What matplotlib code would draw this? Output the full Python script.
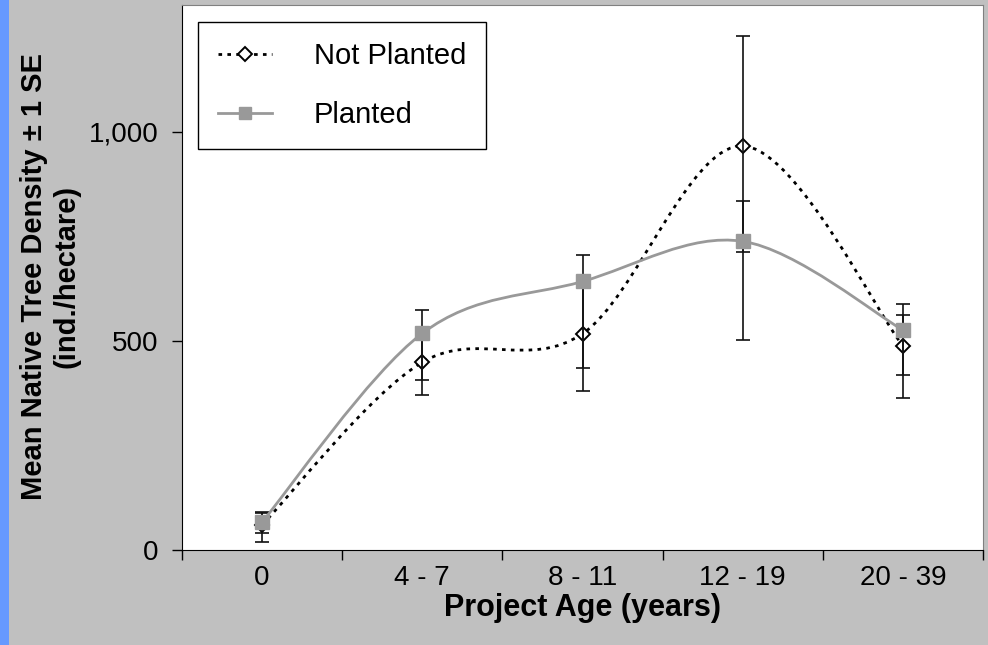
import numpy as np
import matplotlib
matplotlib.use('Agg')
import matplotlib.pyplot as plt
from matplotlib.path import Path
from matplotlib.patches import PathPatch, Rectangle
from matplotlib.lines import Line2D

plt.rcParams['font.family'] = ['Liberation Sans', 'DejaVu Sans']

categorias = ['0', '4 - 7', '8 - 11', '12 - 19', '20 - 39']

# Not Planted: media y extremos de las barras de error
np_media = [60, 449, 517, 966, 488]
np_bajo = [19, 370, 381, 712, 418]
np_alto = [91, 528, 653, 1230, 561]

# Planted
p_media = [67, 518, 642, 738, 526]
p_bajo = [40, 406, 434, 501, 363]
p_alto = [88, 573, 705, 834, 589]


def curva_suave(x, y):
    # curva tipo "smoothed line" de Excel (bezier cubica)
    n = len(x)
    verts = [(x[0], y[0])]
    codes = [Path.MOVETO]
    for i in range(n - 1):
        a = max(i - 1, 0)
        b = min(i + 2, n - 1)
        c1 = (x[i] + (x[i + 1] - x[a]) / 6.0, y[i] + (y[i + 1] - y[a]) / 6.0)
        c2 = (x[i + 1] - (x[b] - x[i]) / 6.0, y[i + 1] - (y[b] - y[i]) / 6.0)
        verts += [c1, c2, (x[i + 1], y[i + 1])]
        codes += [Path.CURVE4] * 3
    return Path(verts, codes)


xpos = np.arange(len(categorias))
gris = '#999999'
punteado = (0, (1.3, 1.9))

fig = plt.figure(figsize=(9.88, 6.45), dpi=100, facecolor='#C0C0C0')
fig.add_artist(Rectangle((0, 0), 9 / 988, 1, transform=fig.transFigure,
                         facecolor='#6699FF', edgecolor='none'))
ax = fig.add_axes([182 / 988, 1 - 550 / 645, 801 / 988, 545 / 645])
ax.set_facecolor('white')

# Not Planted
ax.add_patch(PathPatch(curva_suave(xpos, np_media), facecolor='none', edgecolor='black',
                       lw=2.0, linestyle=punteado, zorder=2))
ax.plot(xpos, np_media, linestyle='none', marker='D', ms=7.5, mfc='white',
        mec='black', mew=1.4, zorder=3)

# barras de error
ax.errorbar(xpos, np_media, yerr=[np.array(np_media) - np.array(np_bajo),
                                  np.array(np_alto) - np.array(np_media)],
            fmt='none', ecolor='#111111', elinewidth=1.2, capsize=5, capthick=1.2, zorder=4)
ax.errorbar(xpos, p_media, yerr=[np.array(p_media) - np.array(p_bajo),
                                 np.array(p_alto) - np.array(p_media)],
            fmt='none', ecolor='#111111', elinewidth=1.2, capsize=5, capthick=1.2, zorder=4)

# Planted
ax.add_patch(PathPatch(curva_suave(xpos, p_media), facecolor='none', edgecolor=gris,
                       lw=2.0, zorder=5))
ax.plot(xpos, p_media, linestyle='none', marker='s', ms=9.5, mfc=gris,
        mec=gris, zorder=6)

ax.set_xlim(-0.5, 4.5)
ax.set_ylim(0, 1303)
ax.set_yticks([0, 500, 1000])
ax.set_yticklabels(['0', '500', '1,000'])
ax.set_xticks(np.arange(-0.5, 5, 1.0))
ax.set_xticklabels([])
ax.set_xticks(xpos, minor=True)
ax.set_xticklabels(categorias, minor=True)
ax.tick_params(axis='x', which='major', direction='out', length=7, width=1)
ax.tick_params(axis='x', which='minor', length=0, pad=11, labelsize=20)
ax.tick_params(axis='y', direction='out', length=7, width=1, pad=10, labelsize=20)
for lado in ['top', 'right']:
    ax.spines[lado].set_color('#808080')
for lado in ['left', 'bottom']:
    ax.spines[lado].set_color('black')

fig.text(582 / 988, 1 - 608 / 645, 'Project Age (years)', ha='center', va='center',
         fontsize=22, fontweight='bold')
fig.text(50 / 988, 1 - 276 / 645, 'Mean Native Tree Density ± 1 SE\n(ind./hectare)',
         ha='center', va='center', rotation=90, fontsize=21, fontweight='bold',
         linespacing=1.22)

h1 = Line2D([], [], color='black', lw=2.0, linestyle=punteado, marker='D', ms=7.5,
            mfc='white', mec='black', mew=1.4)
h2 = Line2D([], [], color=gris, lw=2.0, marker='s', ms=9, mfc=gris, mec=gris)
leg = ax.legend([h1, h2], ['Not Planted', 'Planted'], loc='upper left',
                bbox_to_anchor=(16 / 801, 1 - 17 / 545), fontsize=21, frameon=True,
                fancybox=False, edgecolor='black', framealpha=1, handlelength=1.85,
                handletextpad=1.45, borderpad=0.68, labelspacing=1.08, borderaxespad=0)
leg.get_frame().set_linewidth(1.0)

plt.savefig('out.png', dpi=100, facecolor=fig.get_facecolor())
